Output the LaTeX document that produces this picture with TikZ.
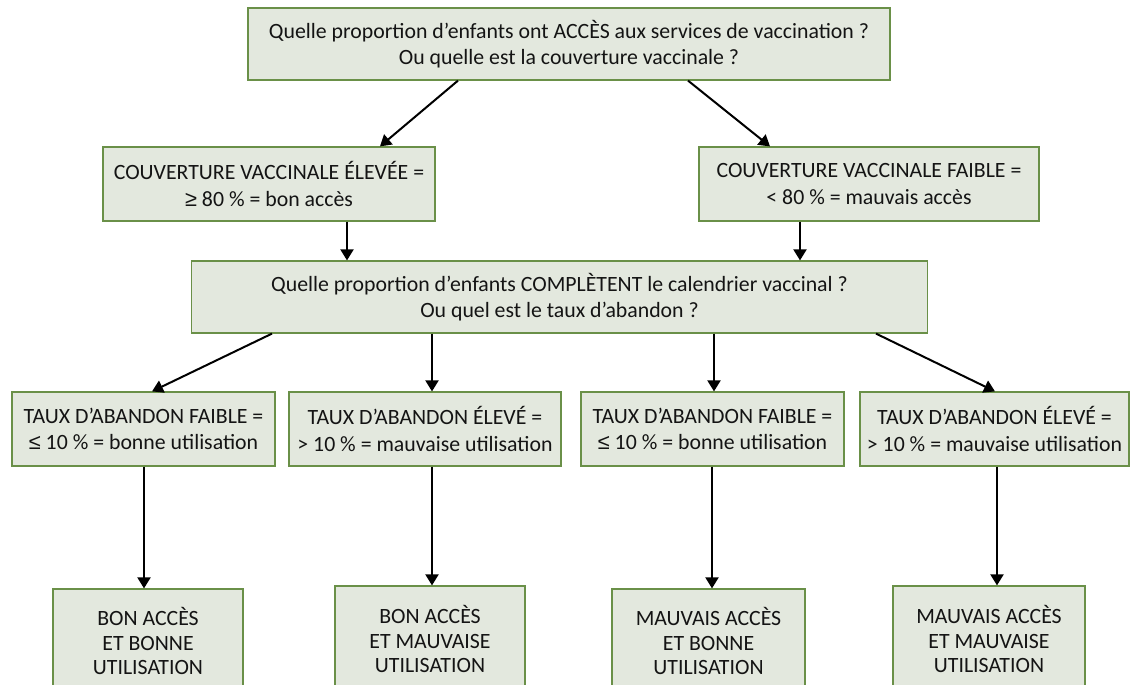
\documentclass[tikz,border=0pt]{standalone}
\usepackage{fontspec}
\setmainfont{Carlito}
\newfontfamily\symf{Liberation Sans}
\usetikzlibrary{arrows.meta}
\definecolor{boxfill}{HTML}{E3E8DE}
\definecolor{boxline}{HTML}{6A9048}
\definecolor{txt}{HTML}{141414}
\newcommand{\lesym}{{\symf ≤}}
\newcommand{\gesym}{{\symf ≥}}
\tikzset{
  box/.style={draw=boxline, fill=boxfill, line width=1.2pt, rectangle, align=center,
    inner sep=0pt, text=txt, font=\fontsize{21.8}{26.5}\selectfont},
  btxt/.style={align=center, text=txt, font=\fontsize{21.8}{24.5}\selectfont, anchor=north},
  arr/.style={line width=2pt, -{Triangle[length=11pt,width=13pt]}}
}
\begin{document}
\begin{tikzpicture}[x=1pt,y=-1pt]
\useasboundingbox (0,0) rectangle (1133,685);
\clip (0,0) rectangle (1133,685);
% level 1
\node[box, minimum width=642pt, minimum height=72pt] (top) at (569,44)
  {Quelle proportion d’enfants ont ACCÈS aux services de vaccination ?\\Ou quelle est la couverture vaccinale ?};
% level 2
\node[box, minimum width=332pt, minimum height=74pt] (L1) at (269,184)
  {COUVERTURE VACCINALE ÉLEVÉE =\\\gesym{} 80 \% = bon accès};
\node[box, minimum width=340pt, minimum height=74pt] (R1) at (869,184)
  {COUVERTURE VACCINALE FAIBLE =\\< 80 \% = mauvais accès};
% level 3
\node[box, minimum width=736pt, minimum height=72pt] (mid) at (559.5,297)
  {Quelle proportion d’enfants COMPLÈTENT le calendrier vaccinal ?\\Ou quel est le taux d’abandon ?};
% level 4
\node[box, minimum width=263pt, minimum height=74pt] (a1) at (143.5,429)
  {TAUX D’ABANDON FAIBLE =\\\lesym{} 10 \% = bonne utilisation};
\node[box, minimum width=272pt, minimum height=74pt] (a2) at (425,429)
  {TAUX D’ABANDON ÉLEVÉ =\\> 10 \% = mauvaise utilisation};
\node[box, minimum width=263pt, minimum height=74pt] (a3) at (712.5,429)
  {TAUX D’ABANDON FAIBLE =\\\lesym{} 10 \% = bonne utilisation};
\node[box, minimum width=269pt, minimum height=74pt] (a4) at (994.5,429)
  {TAUX D’ABANDON ÉLEVÉ =\\> 10 \% = mauvaise utilisation};
% level 5
\node[box, minimum width=190pt, minimum height=110pt] (c1) at (148,644) {};
\node[box, minimum width=190pt, minimum height=112pt] (c2) at (430,642) {};
\node[box, minimum width=193pt, minimum height=110pt] (c3) at (708.5,644) {};
\node[box, minimum width=192pt, minimum height=112pt] (c4) at (989,642) {};
\node[btxt] (t1) at (148,604) {BON ACCÈS\\ET BONNE\\UTILISATION};
\node[btxt] (t2) at (430,602) {BON ACCÈS\\ET MAUVAISE\\UTILISATION};
\node[btxt] (t3) at (708.5,604) {MAUVAIS ACCÈS\\ET BONNE\\UTILISATION};
\node[btxt] (t4) at (989,602) {MAUVAIS ACCÈS\\ET MAUVAISE\\UTILISATION};
% connectors
\draw[arr] (top.south -| 458,0) -- (L1.north -| 380,0);
\draw[arr] (top.south -| 688,0) -- (R1.north -| 770,0);
\draw[arr] (L1.south -| 347,0) -- (mid.north -| 347,0);
\draw[arr] (R1.south -| 800,0) -- (mid.north -| 800,0);
\draw[arr] (mid.south -| 272,0) -- (a1.north -| 152,0);
\draw[arr] (mid.south -| 432,0) -- (a2.north -| 432,0);
\draw[arr] (mid.south -| 714,0) -- (a3.north -| 714,0);
\draw[arr] (mid.south -| 876,0) -- (a4.north -| 995,0);
\draw[arr] (a1.south -| 144,0) -- (c1.north -| 144,0);
\draw[arr] (a2.south -| 432,0) -- (c2.north -| 432,0);
\draw[arr] (a3.south -| 712,0) -- (c3.north -| 712,0);
\draw[arr] (a4.south -| 997,0) -- (c4.north -| 997,0);
\end{tikzpicture}
\end{document}
